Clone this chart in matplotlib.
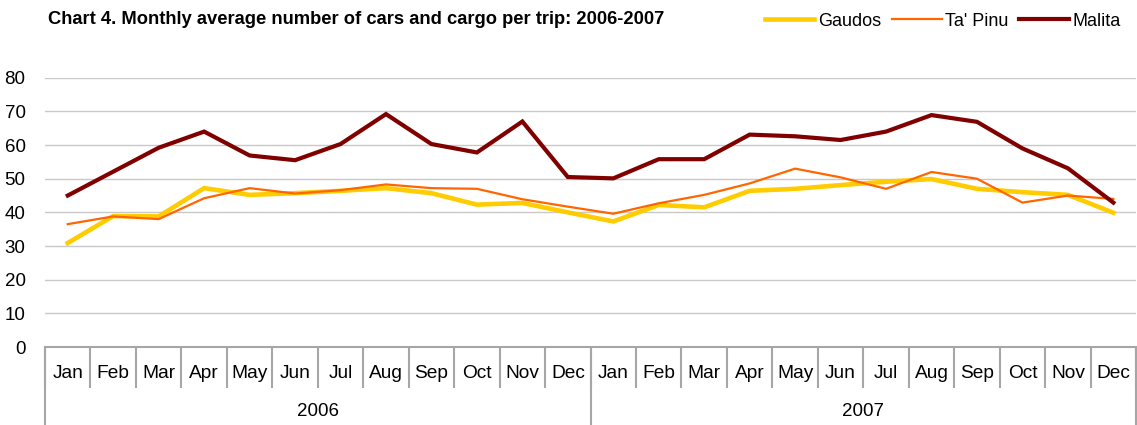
#!/usr/bin/env python3
"""Chart 4: monthly average number of cars and cargo per trip, 2006-2007."""
import matplotlib
matplotlib.use("Agg")
import matplotlib.pyplot as plt
import matplotlib.transforms as mtransforms
import numpy as np

plt.rcParams["font.family"] = ["Liberation Sans", "DejaVu Sans"]

months = ["Jan", "Feb", "Mar", "Apr", "May", "Jun",
          "Jul", "Aug", "Sep", "Oct", "Nov", "Dec"]
years = ["2006", "2007"]

gaudos = [30.9, 38.9, 38.8, 47.2, 45.2, 45.7, 46.4, 47.2, 45.7, 42.3, 42.8, 40.0,
          37.3, 42.2, 41.5, 46.4, 47.0, 48.1, 49.1, 49.9, 47.0, 46.0, 45.2, 39.9]
ta_pinu = [36.5, 38.8, 38.0, 44.2, 47.2, 45.6, 46.6, 48.3, 47.2, 47.0, 43.9, 41.7,
           39.6, 42.7, 45.2, 48.6, 53.0, 50.4, 47.0, 52.0, 50.0, 42.9, 45.0, 44.0]
malita = [45.0, 52.1, 59.2, 64.0, 56.9, 55.5, 60.3, 69.2, 60.3, 57.8, 67.0, 50.5,
          50.1, 55.8, 55.8, 63.1, 62.6, 61.5, 64.0, 68.9, 66.9, 59.0, 53.1, 42.9]

series = [("Gaudos", gaudos, "#FFCC00", 3.3),
          ("Ta' Pinu", ta_pinu, "#FF6600", 1.6),
          ("Malita", malita, "#800000", 3.0)]

AXIS_GRAY = "#A6A6A6"

fig = plt.figure(figsize=(11.37, 4.25), dpi=100)
ax = fig.add_axes([0.0396, 0.1835, 0.9596, 0.6336])

n = len(months) * len(years)
x = np.arange(n)
for name, values, color, lw in series:
    ax.plot(x, values, color=color, linewidth=lw, label=name,
            solid_joinstyle="miter", zorder=3)

ax.set_xlim(-0.5, n - 0.5)
ax.set_ylim(0, 80)
ax.set_yticks(range(0, 81, 10))
ax.yaxis.grid(True, color="#C8C8C8", linewidth=1.0)
ax.set_axisbelow(True)
ax.tick_params(axis="y", length=0, pad=14, labelsize=13.5)

for side in ("top", "right", "left"):
    ax.spines[side].set_visible(False)
ax.spines["bottom"].set_color(AXIS_GRAY)
ax.spines["bottom"].set_linewidth(1.5)

# month labels (major) and month separators (minor)
ax.set_xticks(x)
ax.set_xticklabels(months * len(years))
ax.tick_params(axis="x", which="major", length=0, pad=13, labelsize=13.8)
ax.set_xticks(np.arange(-0.5, n, 1.0), minor=True)
ax.tick_params(axis="x", which="minor", length=29.5, width=1.5, color=AXIS_GRAY)

# year row: long separators and year labels
sec = ax.secondary_xaxis("bottom")
sec.set_xticks([-0.5, 11.5, n - 0.5])
sec.set_xticklabels([])
sec.tick_params(length=58, width=1.5, color=AXIS_GRAY)
sec.spines["bottom"].set_visible(False)

trans = mtransforms.blended_transform_factory(ax.transData, fig.transFigure)
for i, yr in enumerate(years):
    ax.text(i * 12 + 5.5, 1 - 411 / 425, yr, transform=trans,
            ha="center", va="center", fontsize=13.5)

fig.text(48 / 1137, 1 - 19 / 425, "Chart 4. Monthly average number of cars and cargo per trip: 2006-2007",
         fontsize=13.2, fontweight="bold", va="center", ha="left")

fig.legend(loc="center right", bbox_to_anchor=(1121 / 1137, 1 - 21 / 425), ncol=3,
           frameon=False, fontsize=13, handlelength=2.75, handletextpad=0.2,
           columnspacing=0.6, borderaxespad=0, borderpad=0)

fig.savefig("out.png", dpi=100)
